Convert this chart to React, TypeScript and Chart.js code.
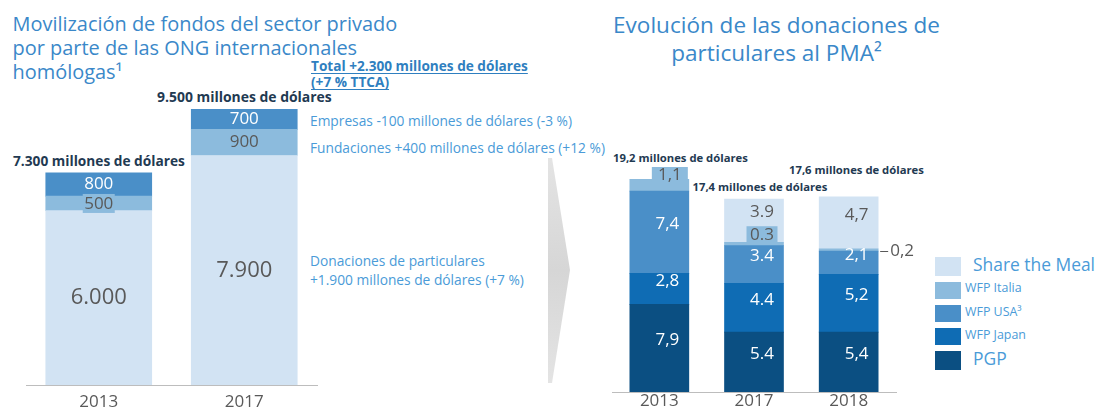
import React, { useEffect, useRef } from "react";
import { Chart, registerables } from "chart.js";
Chart.register(...registerables);

const FONT = '"Open Sans", "Noto Sans", sans-serif';

// ---------- Left panel data ----------
const leftTitleLines = [
  "Movilización de fondos del sector privado",
  "por parte de las ONG internacionales",
  "homólogas¹",
];
const leftYears = ["2013", "2017"];
const particulares = [6000, 7900];
const fundaciones = [500, 900];
const empresas = [800, 700];
const particularesLabels = ["6.000", "7.900"];
const fundacionesLabels = ["500", "900"];
const empresasLabels = ["800", "700"];
const leftTotals = ["7.300 millones de dólares", "9.500 millones de dólares"];
const growthLines = ["Total +2.300 millones de dólares", "(+7 % TTCA)"];
const leftNotes = [
  "Empresas -100 millones de dólares (-3 %)",
  "Fundaciones +400 millones de dólares (+12 %)",
  "Donaciones de particulares",
  "+1.900 millones de dólares (+7 %)",
];

// ---------- Right panel data ----------
const rightTitleLines = ["Evolución de las donaciones de", "particulares al PMA²"];
const rightYears = ["2013", "2017", "2018"];
const pgp = [7.9, 5.4, 5.4];
const wfpJapan = [2.8, 4.4, 5.2];
const wfpUSA = [7.4, 3.4, 2.1];
const wfpItalia = [1.1, 0.3, 0.2];
const shareTheMeal = [0, 3.9, 4.7];
const pgpLabels = ["7,9", "5.4", "5,4"];
const japanLabels = ["2,8", "4.4", "5,2"];
const usaLabels = ["7,4", "3.4", "2,1"];
const italiaLabels = ["1,1", "0.3", "0,2"];
const stmLabels = ["", "3.9", "4,7"];
const rightTotals = ["19,2 millones de dólares", "17,4 millones de dólares", "17,6 millones de dólares"];
const legendNames = ["Share the Meal", "WFP Italia", "WFP USA³", "WFP Japan", "PGP"];

// ---------- Styles ----------
const C_STM = "#d2e3f3";
const C_ITA = "#8cbbdd";
const C_USA = "#4a8fc8";
const C_JPN = "#0f6cb4";
const C_PGP = "#0b4f82";
const GREY = "#595959";
const TITLE_BLUE = "#3a88c9";
const NOTE_BLUE = "#4a9bd8";
const DARK = "#1f3a52";
const legendColors = [C_STM, C_ITA, C_USA, C_JPN, C_PGP];

let mctx: CanvasRenderingContext2D | null = null;
function fit(text: string, target: number, weight = "normal"): number {
  if (!mctx) mctx = document.createElement("canvas").getContext("2d");
  mctx!.font = `${weight} 100px ${FONT}`;
  const w = mctx!.measureText(text).width;
  return (100 * target) / w;
}

const labelPlugin = {
  id: "valueLabels",
  afterDatasetsDraw(chart: any) {
    const ctx = chart.ctx as CanvasRenderingContext2D;
    chart.data.datasets.forEach((ds: any, di: number) => {
      if (!ds.valueLabels) return;
      const meta = chart.getDatasetMeta(di);
      meta.data.forEach((el: any, i: number) => {
        const text = ds.valueLabels[i];
        if (!text) return;
        const { x, y, base, width } = el.getProps(["x", "y", "base", "width"], true);
        const sp = ds.labelSpecial ? ds.labelSpecial[i] : null;
        ctx.save();
        ctx.font = `${ds.labelSize}px ${FONT}`;
        ctx.textBaseline = "middle";
        if (sp && sp.outside) {
          const cy = (y + base) / 2 + (sp.dy || 0);
          const x0 = x + width / 2 + 2;
          ctx.strokeStyle = GREY;
          ctx.lineWidth = 1;
          ctx.beginPath();
          ctx.moveTo(x0, Math.round(cy) + 0.5);
          ctx.lineTo(x0 + 8, Math.round(cy) + 0.5);
          ctx.stroke();
          ctx.fillStyle = ds.labelColor;
          ctx.textAlign = "left";
          ctx.fillText(text, x0 + 10, cy);
        } else if (sp && sp.box) {
          const cx = x + sp.dx;
          const cy = y + sp.dy;
          ctx.fillStyle = ds.backgroundColor;
          ctx.fillRect(cx - sp.w / 2, cy - sp.h / 2, sp.w, sp.h);
          ctx.fillStyle = ds.labelColor;
          ctx.textAlign = "center";
          ctx.fillText(text, cx, cy + 0.5);
        } else {
          ctx.fillStyle = ds.labelColor;
          ctx.textAlign = "center";
          ctx.fillText(text, x + (ds.labelDx || 0), (y + base) / 2 + (ds.labelDy || 0));
        }
        ctx.restore();
      });
    });
  },
};

function T(props: any) {
  const { x, by, size, color, weight, center, underline, children } = props;
  return (
    <div
      style={{
        position: "absolute",
        left: x,
        top: by - 0.888 * size,
        fontSize: size,
        lineHeight: `${size}px`,
        whiteSpace: "nowrap",
        color,
        fontWeight: weight || "normal",
        fontFamily: FONT,
        transform: center ? "translateX(-50%)" : undefined,
        textDecoration: underline ? "underline" : undefined,
        textUnderlineOffset: underline ? "2px" : undefined,
      }}
    >
      {children}
    </div>
  );
}

const TICK_SIZE = 17;
const LEFT_TICK_PAD = 8.5;
const RIGHT_TICK_PAD = 1;

export default function App() {
  const leftRef = useRef<HTMLCanvasElement>(null);
  const rightRef = useRef<HTMLCanvasElement>(null);

  useEffect(() => {
    const xAxis = (pad: number) => ({
      stacked: true,
      grid: { display: false, drawTicks: false },
      border: { display: true, color: "#bdbdbd", width: 1 },
      ticks: { color: GREY, padding: pad, font: { family: FONT, size: TICK_SIZE, lineHeight: 1 } },
      afterFit: (scale: any) => {
        scale.height = TICK_SIZE + pad;
      },
    });
    const common = {
      animation: false,
      responsive: false,
      events: [],
      plugins: { legend: { display: false }, tooltip: { enabled: false } },
    };

    const left = new Chart(leftRef.current as HTMLCanvasElement, {
      type: "bar",
      data: {
        labels: leftYears,
        datasets: [
          { label: "Donaciones de particulares", data: particulares, backgroundColor: C_STM, valueLabels: particularesLabels, labelColor: GREY, labelSize: 22 } as any,
          {
            label: "Fundaciones", data: fundaciones, backgroundColor: C_ITA, valueLabels: fundacionesLabels, labelColor: GREY, labelSize: 17,
            labelSpecial: [{ box: true, dx: 0, dy: 7.3, w: 32, h: 19 }, null],
          } as any,
          { label: "Empresas", data: empresas, backgroundColor: C_USA, valueLabels: empresasLabels, labelColor: "#ffffff", labelSize: 17 } as any,
        ],
      },
      options: {
        ...common,
        layout: { padding: { left: 26, right: 13, top: 109, bottom: 420 - 385 - (TICK_SIZE + LEFT_TICK_PAD) } },
        datasets: { bar: { barThickness: 106 } },
        scales: {
          x: xAxis(LEFT_TICK_PAD),
          y: { stacked: true, display: false, min: 0, max: 9500 },
        },
      } as any,
      plugins: [labelPlugin],
    });

    const right = new Chart(rightRef.current as HTMLCanvasElement, {
      type: "bar",
      data: {
        labels: rightYears,
        datasets: [
          { label: "PGP", data: pgp, backgroundColor: C_PGP, valueLabels: pgpLabels, labelColor: "#ffffff", labelSize: 17, labelDx: 8, labelDy: -8 } as any,
          { label: "WFP Japan", data: wfpJapan, backgroundColor: C_JPN, valueLabels: japanLabels, labelColor: "#ffffff", labelSize: 17, labelDx: 8, labelDy: -8 } as any,
          { label: "WFP USA", data: wfpUSA, backgroundColor: C_USA, valueLabels: usaLabels, labelColor: "#ffffff", labelSize: 17, labelDx: 8, labelDy: -8 } as any,
          {
            label: "WFP Italia", data: wfpItalia, backgroundColor: C_ITA, valueLabels: italiaLabels, labelColor: GREY, labelSize: 17,
            labelSpecial: [
              { box: true, dx: 10.5, dy: -4.5, w: 36, h: 15 },
              { box: true, dx: 8, dy: -8, w: 31, h: 16 },
              { outside: true, dy: 1 },
            ],
          } as any,
          { label: "Share the Meal", data: shareTheMeal, backgroundColor: C_STM, valueLabels: stmLabels, labelColor: GREY, labelSize: 17, labelDx: 8, labelDy: -8 } as any,
        ],
      },
      options: {
        ...common,
        layout: { padding: { left: 12, right: 34, top: 179, bottom: 420 - 392 - (TICK_SIZE + RIGHT_TICK_PAD) } },
        datasets: { bar: { barThickness: 59 } },
        scales: {
          x: xAxis(RIGHT_TICK_PAD),
          y: { stacked: true, display: false, min: 0, max: 19.2 },
        },
      } as any,
      plugins: [labelPlugin],
    });

    return () => {
      left.destroy();
      right.destroy();
    };
  }, []);

  const sTitleL = fit(leftTitleLines[0], 385);
  const sTitleR = fit(rightTitleLines[0], 327);
  const sGrowth = fit(growthLines[0], 217, "bold");
  const sTot9500 = fit(leftTotals[1], 175, "bold");
  const sTot7300 = fit(leftTotals[0], 172, "bold");
  const sNote = fit(leftNotes[1], 295);
  const sTotR = fit(rightTotals[0], 135, "bold");
  const sLegBig = fit(legendNames[0], 122);
  const sLegSmall = fit(legendNames[3], 61);

  const legendRows = [
    { top: 257, h: 19, by: 271.7, big: true },
    { top: 282, h: 17, by: 293.3, big: false },
    { top: 305, h: 17, by: 316.7, big: false },
    { top: 328, h: 17, by: 340, big: false },
    { top: 351, h: 19, by: 365.7, big: true },
  ];

  return (
    <div style={{ position: "relative", width: 1099, height: 407, overflow: "hidden", background: "#ffffff" }}>
      <style>{"body{margin:0;overflow:hidden}"}</style>

      <svg width={1099} height={407} style={{ position: "absolute", left: 0, top: 0 }}>
        <defs>
          <linearGradient id="arrowGrad" x1="0" y1="0" x2="0" y2="1">
            <stop offset="0" stopColor="#e4e4e4" />
            <stop offset="0.5" stopColor="#d6d6d6" />
            <stop offset="1" stopColor="#e4e4e4" />
          </linearGradient>
        </defs>
        <polygon points="548,158 552,158 570,270 552,383 548,383" fill="url(#arrowGrad)" />
      </svg>

      {/* Left panel texts */}
      {leftTitleLines.map((line, i) => (
        <T key={line} x={12.5} by={31.7 + i * 24} size={sTitleL} color={TITLE_BLUE}>{line}</T>
      ))}
      <T x={311} by={70.7} size={sGrowth} color="#2f7fc0" weight="bold" underline>{growthLines[0]}</T>
      <T x={311} by={87} size={sGrowth} color="#2f7fc0" weight="bold" underline>{growthLines[1]}</T>
      <T x={157} by={102} size={sTot9500} color={DARK} weight="bold">{leftTotals[1]}</T>
      <T x={13} by={165.7} size={sTot7300} color={DARK} weight="bold">{leftTotals[0]}</T>
      <T x={310} by={121 + 0.357 * sNote} size={sNote} color={NOTE_BLUE}>{leftNotes[0]}</T>
      <T x={310} by={148 + 0.357 * sNote} size={sNote} color={NOTE_BLUE}>{leftNotes[1]}</T>
      <T x={310} by={261 + 0.357 * sNote} size={sNote} color={NOTE_BLUE}>{leftNotes[2]}</T>
      <T x={310} by={280 + 0.357 * sNote} size={sNote} color={NOTE_BLUE}>{leftNotes[3]}</T>

      {/* Right panel texts */}
      <T x={776.5} by={34.3} size={sTitleR} color={TITLE_BLUE} center>{rightTitleLines[0]}</T>
      <T x={776.5} by={61.7} size={sTitleR} color={TITLE_BLUE} center>{rightTitleLines[1]}</T>
      <T x={613} by={162} size={sTotR} color={DARK} weight="bold">{rightTotals[0]}</T>
      <T x={692.5} by={191} size={sTotR} color={DARK} weight="bold">{rightTotals[1]}</T>
      <T x={789} by={174} size={sTotR} color={DARK} weight="bold">{rightTotals[2]}</T>

      {/* Legend */}
      {legendNames.map((name, i) => {
        const r = legendRows[i];
        return (
          <React.Fragment key={name}>
            <div style={{ position: "absolute", left: 935, top: r.top, width: 26, height: r.h, background: legendColors[i] }} />
            <T x={r.big ? 973 : 965} by={r.by} size={r.big ? sLegBig : sLegSmall} color={NOTE_BLUE}>{name}</T>
          </React.Fragment>
        );
      })}

      <canvas ref={leftRef} width={330} height={420} style={{ position: "absolute", left: 0, top: 0, width: 330, height: 420 }} />
      <canvas ref={rightRef} width={330} height={420} style={{ position: "absolute", left: 600, top: 0, width: 330, height: 420 }} />
    </div>
  );
}
